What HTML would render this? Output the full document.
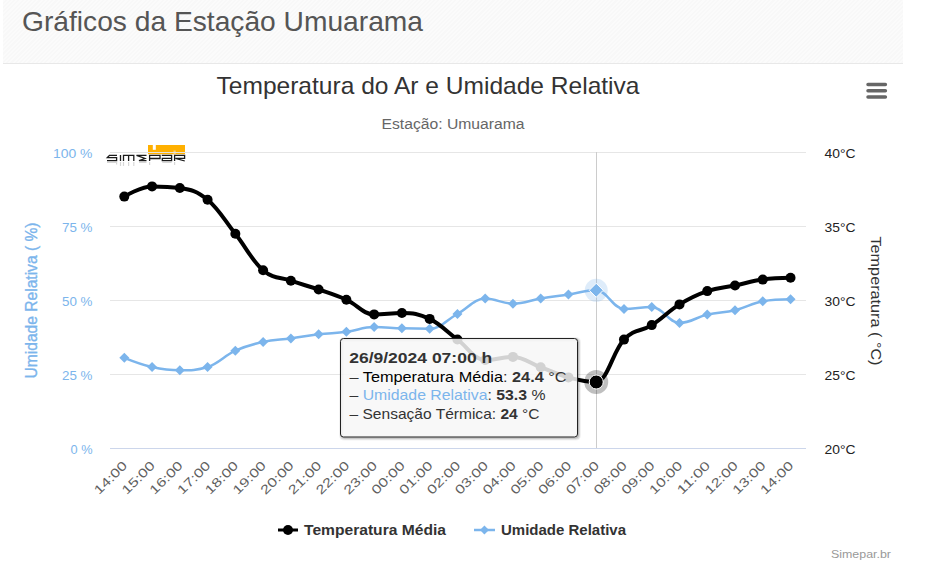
<!DOCTYPE html>
<html><head><meta charset="utf-8"><style>
*{margin:0;padding:0;box-sizing:border-box}
html,body{width:929px;height:587px;overflow:hidden;background:#fff;font-family:"Liberation Sans",sans-serif}
.hdr{position:absolute;left:3px;top:0;width:900px;height:64px;border-bottom:1px solid #e8e8e8;
background:repeating-linear-gradient(-45deg,#f8f8f8 0,#f8f8f8 1.5px,#fbfbfb 1.5px,#fbfbfb 3px)}
svg{position:absolute;left:0;top:0}
</style></head><body>
<div class="hdr"></div>
<svg width="929" height="587" font-family="Liberation Sans, sans-serif">
<text x="22" y="30.6" font-size="28" fill="#555" textLength="401" lengthAdjust="spacingAndGlyphs">Gráficos da Estação Umuarama</text>
<text x="216.5" y="93.8" font-size="24" fill="#333" textLength="423" lengthAdjust="spacingAndGlyphs">Temperatura do Ar e Umidade Relativa</text>
<text x="381.5" y="128.7" font-size="14" fill="#666" textLength="143" lengthAdjust="spacingAndGlyphs">Estação: Umuarama</text>
<path d="M 868 84.6 L 885.4 84.6 M 868 90.8 L 885.4 90.8 M 868 97 L 885.4 97" stroke="#666" stroke-width="3.5" stroke-linecap="round"/>
<path d="M 110 152.5 L 806 152.5" stroke="#e6e6e6" stroke-width="1"/>
<path d="M 110 226.5 L 806 226.5" stroke="#e6e6e6" stroke-width="1"/>
<path d="M 110 300.5 L 806 300.5" stroke="#e6e6e6" stroke-width="1"/>
<path d="M 110 374.5 L 806 374.5" stroke="#e6e6e6" stroke-width="1"/>
<path d="M 110 448.5 L 806 448.5" stroke="#ccd6eb" stroke-width="1"/>
<g>
<rect x="148" y="145" width="37" height="9.2" fill="#ffb000"/>
<rect x="152.8" y="144.5" width="3" height="5.3" fill="#fff"/>
<rect x="173.5" y="150.5" width="2.2" height="3.8" fill="#ffd27a"/>
<path d="M 110 152.5 L 186 152.5" stroke="#e2e2e2" stroke-width="1"/>
<g fill="none" stroke="#1a1a1a" stroke-width="1.3" stroke-linejoin="miter">
<path d="M 117 155.3 H 109.5 L 107.3 157.6 H 116.6 V 160.6 H 107"/>
<path d="M 120.5 155 V 161"/>
<path d="M 123.5 161 V 155.3 H 133.8 V 161 M 128.6 155.3 V 161"/>
<path d="M 146.5 155.3 H 136.5 L 145 158.5 L 139 160.6 H 146.5"/>
<path d="M 149.6 161 V 155.3 H 160 V 158.5 H 150"/>
<path d="M 161.8 155.3 H 171.6 V 160.6 H 162.3 V 158.3 H 171.4"/>
<path d="M 174.6 161 V 155.3 H 184.6 V 158.3 H 175.5 L 184.8 161"/>
</g>
<g fill="none" stroke="#1a1a1a" stroke-width="1.2" opacity="0.18">
<path d="M 107 162.5 H 116.6 V 164.5 M 120.5 162 V 166 M 123.5 162 V 166 M 128.6 162 V 166 M 133.8 162 V 166 M 139 162.5 H 146.5 M 149.6 162 V 165 M 162.3 162.5 H 171.6 M 174.6 162 V 165"/>
</g>
</g>
<path d="M 596.5 152 L 596.5 448" stroke="#cccccc" stroke-width="1"/>
<path d="M 124.30 357.80 C 124.30 357.80 140.96 364.50 152.06 367.00 C 163.16 369.50 168.72 370.30 179.82 370.30 C 190.92 370.30 196.48 370.30 207.58 367.00 C 218.68 363.70 224.24 355.72 235.34 350.70 C 246.44 345.68 252.00 344.36 263.10 341.90 C 274.20 339.44 279.76 339.92 290.86 338.40 C 301.96 336.88 307.52 335.62 318.62 334.30 C 329.72 332.98 335.28 333.24 346.38 331.80 C 357.48 330.36 363.04 327.10 374.14 327.10 C 385.24 327.10 390.80 327.98 401.90 328.30 C 413.00 328.62 418.56 328.70 429.66 328.70 C 440.76 328.70 446.32 320.02 457.42 314.00 C 468.52 307.98 474.08 298.60 485.18 298.60 C 496.28 298.60 501.84 303.70 512.94 303.70 C 524.04 303.70 529.60 300.44 540.70 298.60 C 551.80 296.76 557.36 296.16 568.46 294.50 C 579.56 292.84 585.12 290.30 596.22 290.30 C 607.32 290.30 612.88 309.00 623.98 309.00 C 635.08 309.00 640.64 306.90 651.74 306.90 C 662.84 306.90 668.40 323.00 679.50 323.00 C 690.60 323.00 696.16 317.14 707.26 314.60 C 718.36 312.06 723.92 312.96 735.02 310.30 C 746.12 307.64 751.68 303.30 762.78 301.30 C 773.88 299.30 790.54 299.30 790.54 299.30" fill="none" stroke="#7cb5ec" stroke-width="2.5" stroke-linejoin="round" stroke-linecap="round"/>
<path d="M 124.30 352.80 L 129.30 357.80 L 124.30 362.80 L 119.30 357.80 Z" fill="#7cb5ec"/>
<path d="M 152.06 362.00 L 157.06 367.00 L 152.06 372.00 L 147.06 367.00 Z" fill="#7cb5ec"/>
<path d="M 179.82 365.30 L 184.82 370.30 L 179.82 375.30 L 174.82 370.30 Z" fill="#7cb5ec"/>
<path d="M 207.58 362.00 L 212.58 367.00 L 207.58 372.00 L 202.58 367.00 Z" fill="#7cb5ec"/>
<path d="M 235.34 345.70 L 240.34 350.70 L 235.34 355.70 L 230.34 350.70 Z" fill="#7cb5ec"/>
<path d="M 263.10 336.90 L 268.10 341.90 L 263.10 346.90 L 258.10 341.90 Z" fill="#7cb5ec"/>
<path d="M 290.86 333.40 L 295.86 338.40 L 290.86 343.40 L 285.86 338.40 Z" fill="#7cb5ec"/>
<path d="M 318.62 329.30 L 323.62 334.30 L 318.62 339.30 L 313.62 334.30 Z" fill="#7cb5ec"/>
<path d="M 346.38 326.80 L 351.38 331.80 L 346.38 336.80 L 341.38 331.80 Z" fill="#7cb5ec"/>
<path d="M 374.14 322.10 L 379.14 327.10 L 374.14 332.10 L 369.14 327.10 Z" fill="#7cb5ec"/>
<path d="M 401.90 323.30 L 406.90 328.30 L 401.90 333.30 L 396.90 328.30 Z" fill="#7cb5ec"/>
<path d="M 429.66 323.70 L 434.66 328.70 L 429.66 333.70 L 424.66 328.70 Z" fill="#7cb5ec"/>
<path d="M 457.42 309.00 L 462.42 314.00 L 457.42 319.00 L 452.42 314.00 Z" fill="#7cb5ec"/>
<path d="M 485.18 293.60 L 490.18 298.60 L 485.18 303.60 L 480.18 298.60 Z" fill="#7cb5ec"/>
<path d="M 512.94 298.70 L 517.94 303.70 L 512.94 308.70 L 507.94 303.70 Z" fill="#7cb5ec"/>
<path d="M 540.70 293.60 L 545.70 298.60 L 540.70 303.60 L 535.70 298.60 Z" fill="#7cb5ec"/>
<path d="M 568.46 289.50 L 573.46 294.50 L 568.46 299.50 L 563.46 294.50 Z" fill="#7cb5ec"/>
<path d="M 623.98 304.00 L 628.98 309.00 L 623.98 314.00 L 618.98 309.00 Z" fill="#7cb5ec"/>
<path d="M 651.74 301.90 L 656.74 306.90 L 651.74 311.90 L 646.74 306.90 Z" fill="#7cb5ec"/>
<path d="M 679.50 318.00 L 684.50 323.00 L 679.50 328.00 L 674.50 323.00 Z" fill="#7cb5ec"/>
<path d="M 707.26 309.60 L 712.26 314.60 L 707.26 319.60 L 702.26 314.60 Z" fill="#7cb5ec"/>
<path d="M 735.02 305.30 L 740.02 310.30 L 735.02 315.30 L 730.02 310.30 Z" fill="#7cb5ec"/>
<path d="M 762.78 296.30 L 767.78 301.30 L 762.78 306.30 L 757.78 301.30 Z" fill="#7cb5ec"/>
<path d="M 790.54 294.30 L 795.54 299.30 L 790.54 304.30 L 785.54 299.30 Z" fill="#7cb5ec"/>
<circle cx="596.22" cy="290.30" r="11.5" fill="#7cb5ec" fill-opacity="0.25"/>
<path d="M 596.22 283.30 L 603.22 290.30 L 596.22 297.30 L 589.22 290.30 Z" fill="#7cb5ec" stroke="#fff" stroke-width="1"/>
<path d="M 124.30 196.60 C 124.30 196.60 140.96 186.40 152.06 186.40 C 163.16 186.40 168.72 186.40 179.82 188.00 C 190.92 189.60 196.48 190.54 207.58 199.70 C 218.68 208.86 224.24 219.70 235.34 233.80 C 246.44 247.90 252.00 260.82 263.10 270.20 C 274.20 279.58 279.76 276.84 290.86 280.70 C 301.96 284.56 307.52 285.70 318.62 289.50 C 329.72 293.30 335.28 294.72 346.38 299.70 C 357.48 304.68 363.04 314.40 374.14 314.40 C 385.24 314.40 390.80 313.00 401.90 313.00 C 413.00 313.00 418.56 313.60 429.66 318.90 C 440.76 324.20 446.32 331.28 457.42 339.50 C 468.52 347.72 474.08 360.00 485.18 360.00 C 496.28 360.00 501.84 356.90 512.94 356.90 C 524.04 356.90 529.60 363.10 540.70 367.20 C 551.80 371.30 557.36 374.44 568.46 377.40 C 579.56 380.36 585.12 382.00 596.22 382.00 C 607.32 382.00 612.88 350.98 623.98 339.60 C 635.08 328.22 640.64 332.14 651.74 325.10 C 662.84 318.06 668.40 311.20 679.50 304.40 C 690.60 297.60 696.16 294.88 707.26 291.10 C 718.36 287.32 723.92 287.80 735.02 285.50 C 746.12 283.20 751.68 281.14 762.78 279.60 C 773.88 278.06 790.54 277.80 790.54 277.80" fill="none" stroke="#000" stroke-width="4" stroke-linejoin="round" stroke-linecap="round"/>
<circle cx="124.30" cy="196.60" r="5" fill="#000"/>
<circle cx="152.06" cy="186.40" r="5" fill="#000"/>
<circle cx="179.82" cy="188.00" r="5" fill="#000"/>
<circle cx="207.58" cy="199.70" r="5" fill="#000"/>
<circle cx="235.34" cy="233.80" r="5" fill="#000"/>
<circle cx="263.10" cy="270.20" r="5" fill="#000"/>
<circle cx="290.86" cy="280.70" r="5" fill="#000"/>
<circle cx="318.62" cy="289.50" r="5" fill="#000"/>
<circle cx="346.38" cy="299.70" r="5" fill="#000"/>
<circle cx="374.14" cy="314.40" r="5" fill="#000"/>
<circle cx="401.90" cy="313.00" r="5" fill="#000"/>
<circle cx="429.66" cy="318.90" r="5" fill="#000"/>
<circle cx="457.42" cy="339.50" r="5" fill="#000"/>
<circle cx="485.18" cy="360.00" r="5" fill="#000"/>
<circle cx="512.94" cy="356.90" r="5" fill="#000"/>
<circle cx="540.70" cy="367.20" r="5" fill="#000"/>
<circle cx="568.46" cy="377.40" r="5" fill="#000"/>
<circle cx="623.98" cy="339.60" r="5" fill="#000"/>
<circle cx="651.74" cy="325.10" r="5" fill="#000"/>
<circle cx="679.50" cy="304.40" r="5" fill="#000"/>
<circle cx="707.26" cy="291.10" r="5" fill="#000"/>
<circle cx="735.02" cy="285.50" r="5" fill="#000"/>
<circle cx="762.78" cy="279.60" r="5" fill="#000"/>
<circle cx="790.54" cy="277.80" r="5" fill="#000"/>
<circle cx="596.22" cy="382.00" r="12" fill="#000" fill-opacity="0.25"/>
<circle cx="596.22" cy="382.00" r="7" fill="#000" stroke="#fff" stroke-width="1"/>
<text x="53.0" y="157.8" font-size="13.5" fill="#7cb5ec" textLength="39.5" lengthAdjust="spacingAndGlyphs">100 %</text>
<text x="62.0" y="231.8" font-size="13.5" fill="#7cb5ec" textLength="30.5" lengthAdjust="spacingAndGlyphs">75 %</text>
<text x="62.0" y="305.8" font-size="13.5" fill="#7cb5ec" textLength="30.5" lengthAdjust="spacingAndGlyphs">50 %</text>
<text x="62.0" y="379.8" font-size="13.5" fill="#7cb5ec" textLength="30.5" lengthAdjust="spacingAndGlyphs">25 %</text>
<text x="70.5" y="453.8" font-size="13.5" fill="#7cb5ec" textLength="22" lengthAdjust="spacingAndGlyphs">0 %</text>
<text x="824.5" y="157.8" font-size="13.5" fill="#222" textLength="31" lengthAdjust="spacingAndGlyphs">40°C</text>
<text x="824.5" y="231.8" font-size="13.5" fill="#222" textLength="31" lengthAdjust="spacingAndGlyphs">35°C</text>
<text x="824.5" y="305.8" font-size="13.5" fill="#222" textLength="31" lengthAdjust="spacingAndGlyphs">30°C</text>
<text x="824.5" y="379.8" font-size="13.5" fill="#222" textLength="31" lengthAdjust="spacingAndGlyphs">25°C</text>
<text x="824.5" y="453.8" font-size="13.5" fill="#222" textLength="31" lengthAdjust="spacingAndGlyphs">20°C</text>
<text x="128.00" y="466.3" text-anchor="end" transform="rotate(-45 128.00 466.3)" fill="#606060" font-size="12.5" textLength="41" lengthAdjust="spacingAndGlyphs">14:00</text>
<text x="155.76" y="466.3" text-anchor="end" transform="rotate(-45 155.76 466.3)" fill="#606060" font-size="12.5" textLength="41" lengthAdjust="spacingAndGlyphs">15:00</text>
<text x="183.52" y="466.3" text-anchor="end" transform="rotate(-45 183.52 466.3)" fill="#606060" font-size="12.5" textLength="41" lengthAdjust="spacingAndGlyphs">16:00</text>
<text x="211.28" y="466.3" text-anchor="end" transform="rotate(-45 211.28 466.3)" fill="#606060" font-size="12.5" textLength="41" lengthAdjust="spacingAndGlyphs">17:00</text>
<text x="239.04" y="466.3" text-anchor="end" transform="rotate(-45 239.04 466.3)" fill="#606060" font-size="12.5" textLength="41" lengthAdjust="spacingAndGlyphs">18:00</text>
<text x="266.80" y="466.3" text-anchor="end" transform="rotate(-45 266.80 466.3)" fill="#606060" font-size="12.5" textLength="41" lengthAdjust="spacingAndGlyphs">19:00</text>
<text x="294.56" y="466.3" text-anchor="end" transform="rotate(-45 294.56 466.3)" fill="#606060" font-size="12.5" textLength="41" lengthAdjust="spacingAndGlyphs">20:00</text>
<text x="322.32" y="466.3" text-anchor="end" transform="rotate(-45 322.32 466.3)" fill="#606060" font-size="12.5" textLength="41" lengthAdjust="spacingAndGlyphs">21:00</text>
<text x="350.08" y="466.3" text-anchor="end" transform="rotate(-45 350.08 466.3)" fill="#606060" font-size="12.5" textLength="41" lengthAdjust="spacingAndGlyphs">22:00</text>
<text x="377.84" y="466.3" text-anchor="end" transform="rotate(-45 377.84 466.3)" fill="#606060" font-size="12.5" textLength="41" lengthAdjust="spacingAndGlyphs">23:00</text>
<text x="405.60" y="466.3" text-anchor="end" transform="rotate(-45 405.60 466.3)" fill="#606060" font-size="12.5" textLength="41" lengthAdjust="spacingAndGlyphs">00:00</text>
<text x="433.36" y="466.3" text-anchor="end" transform="rotate(-45 433.36 466.3)" fill="#606060" font-size="12.5" textLength="41" lengthAdjust="spacingAndGlyphs">01:00</text>
<text x="461.12" y="466.3" text-anchor="end" transform="rotate(-45 461.12 466.3)" fill="#606060" font-size="12.5" textLength="41" lengthAdjust="spacingAndGlyphs">02:00</text>
<text x="488.88" y="466.3" text-anchor="end" transform="rotate(-45 488.88 466.3)" fill="#606060" font-size="12.5" textLength="41" lengthAdjust="spacingAndGlyphs">03:00</text>
<text x="516.64" y="466.3" text-anchor="end" transform="rotate(-45 516.64 466.3)" fill="#606060" font-size="12.5" textLength="41" lengthAdjust="spacingAndGlyphs">04:00</text>
<text x="544.40" y="466.3" text-anchor="end" transform="rotate(-45 544.40 466.3)" fill="#606060" font-size="12.5" textLength="41" lengthAdjust="spacingAndGlyphs">05:00</text>
<text x="572.16" y="466.3" text-anchor="end" transform="rotate(-45 572.16 466.3)" fill="#606060" font-size="12.5" textLength="41" lengthAdjust="spacingAndGlyphs">06:00</text>
<text x="599.92" y="466.3" text-anchor="end" transform="rotate(-45 599.92 466.3)" fill="#606060" font-size="12.5" textLength="41" lengthAdjust="spacingAndGlyphs">07:00</text>
<text x="627.68" y="466.3" text-anchor="end" transform="rotate(-45 627.68 466.3)" fill="#606060" font-size="12.5" textLength="41" lengthAdjust="spacingAndGlyphs">08:00</text>
<text x="655.44" y="466.3" text-anchor="end" transform="rotate(-45 655.44 466.3)" fill="#606060" font-size="12.5" textLength="41" lengthAdjust="spacingAndGlyphs">09:00</text>
<text x="683.20" y="466.3" text-anchor="end" transform="rotate(-45 683.20 466.3)" fill="#606060" font-size="12.5" textLength="41" lengthAdjust="spacingAndGlyphs">10:00</text>
<text x="710.96" y="466.3" text-anchor="end" transform="rotate(-45 710.96 466.3)" fill="#606060" font-size="12.5" textLength="41" lengthAdjust="spacingAndGlyphs">11:00</text>
<text x="738.72" y="466.3" text-anchor="end" transform="rotate(-45 738.72 466.3)" fill="#606060" font-size="12.5" textLength="41" lengthAdjust="spacingAndGlyphs">12:00</text>
<text x="766.48" y="466.3" text-anchor="end" transform="rotate(-45 766.48 466.3)" fill="#606060" font-size="12.5" textLength="41" lengthAdjust="spacingAndGlyphs">13:00</text>
<text x="794.24" y="466.3" text-anchor="end" transform="rotate(-45 794.24 466.3)" fill="#606060" font-size="12.5" textLength="41" lengthAdjust="spacingAndGlyphs">14:00</text>
<text x="0" y="0" font-size="16" fill="#7cb5ec" stroke="#7cb5ec" stroke-width="0.35" textLength="156" lengthAdjust="spacingAndGlyphs" transform="translate(36.5 378.5) rotate(-90)">Umidade Relativa ( %)</text>
<text x="0" y="0" font-size="15.5" fill="#333" textLength="129" lengthAdjust="spacingAndGlyphs" transform="translate(870.8 236.5) rotate(90)">Temperatura ( °C)</text>
<path d="M 278 530 L 298 530" stroke="#000" stroke-width="3"/><circle cx="288" cy="530" r="5" fill="#000"/>
<text x="304" y="535" font-size="15.5" fill="#333" font-weight="bold" textLength="142" lengthAdjust="spacingAndGlyphs">Temperatura Média</text>
<path d="M 474 530 L 495 530" stroke="#7cb5ec" stroke-width="2.5"/><path d="M 484.4 525.5 L 489 530 L 484.4 534.5 L 480 530 Z" fill="#7cb5ec"/>
<text x="501" y="535" font-size="15.5" fill="#333" font-weight="bold" textLength="125" lengthAdjust="spacingAndGlyphs">Umidade Relativa</text>
<text x="831" y="557.7" font-size="10.5" fill="#999" textLength="60" lengthAdjust="spacingAndGlyphs">Simepar.br</text>
<g transform="translate(1 1)" fill="none" stroke="#000"><path d="M 343.5 338.5 L 574.5 338.5 Q 577.5 338.5 577.5 341.5 L 577.5 434 Q 577.5 437 574.5 437 L 343.5 437 Q 340.5 437 340.5 434 L 340.5 341.5 Q 340.5 338.5 343.5 338.5 Z" stroke-opacity="0.05" stroke-width="5"/><path d="M 343.5 338.5 L 574.5 338.5 Q 577.5 338.5 577.5 341.5 L 577.5 434 Q 577.5 437 574.5 437 L 343.5 437 Q 340.5 437 340.5 434 L 340.5 341.5 Q 340.5 338.5 343.5 338.5 Z" stroke-opacity="0.1" stroke-width="3"/><path d="M 343.5 338.5 L 574.5 338.5 Q 577.5 338.5 577.5 341.5 L 577.5 434 Q 577.5 437 574.5 437 L 343.5 437 Q 340.5 437 340.5 434 L 340.5 341.5 Q 340.5 338.5 343.5 338.5 Z" stroke-opacity="0.15" stroke-width="1"/></g>
<path d="M 343.5 338.5 L 574.5 338.5 Q 577.5 338.5 577.5 341.5 L 577.5 434 Q 577.5 437 574.5 437 L 343.5 437 Q 340.5 437 340.5 434 L 340.5 341.5 Q 340.5 338.5 343.5 338.5 Z" fill="rgb(247,247,247)" fill-opacity="0.85" stroke="#222" stroke-width="1"/>
<text x="349.2" y="362.7" font-size="15" fill="#333" font-weight="bold" textLength="143" lengthAdjust="spacingAndGlyphs">26/9/2024 07:00 h</text>
<text x="349.5" y="381.6" font-size="15" fill="#333" textLength="217" lengthAdjust="spacingAndGlyphs">– <tspan fill="#000">Temperatura Média</tspan>: <tspan font-weight="bold">24.4</tspan> °C</text>
<text x="349.5" y="400" font-size="15" fill="#333" textLength="196" lengthAdjust="spacingAndGlyphs">– <tspan fill="#7cb5ec">Umidade Relativa</tspan>: <tspan font-weight="bold">53.3</tspan> %</text>
<text x="349.5" y="418.6" font-size="15" fill="#333" textLength="190" lengthAdjust="spacingAndGlyphs">– Sensação Térmica: <tspan font-weight="bold">24</tspan> °C</text>
</svg>
</body></html>
